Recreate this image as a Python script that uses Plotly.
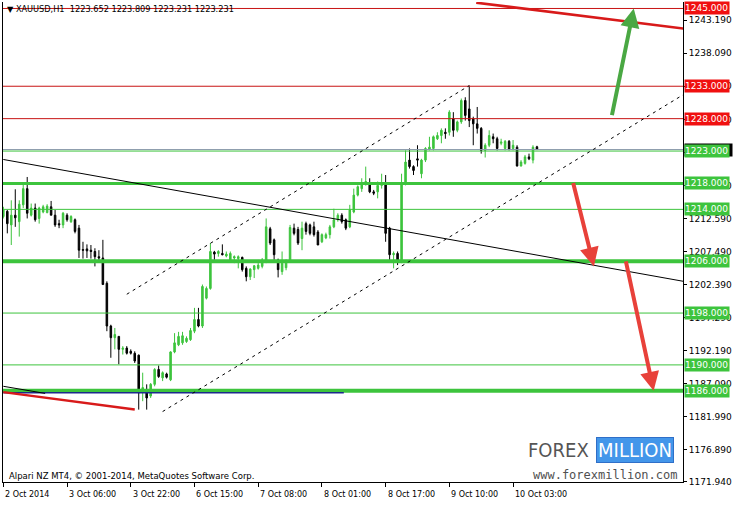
import plotly.graph_objects as go

# ---------------- data ----------------
time_labels = ["2 Oct 2014", "3 Oct 06:00", "3 Oct 22:00", "6 Oct 15:00", "7 Oct 08:00",
               "8 Oct 01:00", "8 Oct 17:00", "9 Oct 10:00", "10 Oct 03:00"]
label_bars = [0, 16, 32, 48, 64, 80, 96, 112, 128]

opens = [1212.9, 1213.7, 1211.6, 1213.1, 1212.1, 1214.7, 1217.2, 1213.1, 1214.2, 1212.6,
         1213.6, 1213.5, 1214.4, 1213.1, 1211.8, 1211.6, 1213.1, 1212.1, 1212.4, 1211.1,
         1207.8, 1207.9, 1207.7, 1207.5, 1206.7, 1206.5, 1202.6, 1196.0, 1194.2, 1194.4,
         1192.4, 1192.6, 1192.1, 1191.8, 1191.5, 1186.0, 1185.7, 1185.2, 1187.0, 1189.3,
         1188.0, 1188.6, 1187.7, 1192.0, 1193.1, 1193.4, 1193.6, 1193.9, 1195.2, 1197.0,
         1196.0, 1200.3, 1201.8, 1207.4, 1207.2, 1207.2, 1206.8, 1206.2, 1206.5, 1206.4,
         1206.6, 1204.9, 1203.6, 1204.7, 1204.9, 1205.2, 1206.0, 1211.0, 1209.3, 1206.2,
         1204.4, 1205.0, 1205.9, 1211.1, 1210.9, 1209.5, 1211.8, 1211.6, 1211.3, 1210.5,
         1209.0, 1209.6, 1210.1, 1211.3, 1212.4, 1213.1, 1212.4, 1211.3, 1213.6, 1216.2,
         1217.2, 1217.8, 1218.0, 1216.7, 1216.7, 1217.7, 1218.0, 1211.1, 1207.0, 1207.2,
         1205.9, 1218.0, 1221.6, 1220.6, 1221.8, 1219.5, 1221.6, 1223.3, 1223.4, 1224.9,
         1225.4, 1225.9, 1225.9, 1228.0, 1226.2, 1227.5, 1230.8, 1229.5, 1228.0, 1227.2,
         1226.5, 1223.1, 1223.9, 1225.2, 1224.9, 1224.2, 1223.4, 1224.5, 1223.4, 1223.6,
         1220.7, 1221.1, 1222.1, 1221.6, 1223.652]
highs = [1214.4, 1213.9, 1215.4, 1217.1, 1215.4, 1218.0, 1219.0, 1214.9, 1214.9, 1214.4,
         1214.7, 1214.8, 1215.3, 1213.9, 1212.4, 1213.6, 1213.4, 1213.1, 1212.6, 1211.6,
         1209.0, 1208.6, 1208.5, 1208.0, 1207.7, 1209.3, 1202.9, 1196.2, 1195.7, 1194.4,
         1192.9, 1192.9, 1192.4, 1192.1, 1191.6, 1188.8, 1187.0, 1187.2, 1189.5, 1189.9,
         1189.0, 1188.8, 1192.1, 1194.9, 1195.1, 1195.1, 1194.4, 1195.7, 1198.8, 1198.8,
         1202.4, 1202.1, 1208.8, 1207.6, 1207.7, 1208.6, 1207.5, 1207.5, 1206.9, 1206.9,
         1206.7, 1205.2, 1204.9, 1205.4, 1206.2, 1206.5, 1212.6, 1211.3, 1209.5, 1206.4,
         1207.5, 1206.3, 1211.6, 1211.8, 1211.3, 1212.1, 1212.1, 1211.8, 1212.1, 1210.8,
         1210.3, 1210.4, 1211.6, 1214.1, 1213.4, 1213.4, 1212.6, 1214.7, 1217.2, 1217.7,
         1218.8, 1220.6, 1218.8, 1217.0, 1218.3, 1219.5, 1219.3, 1211.3, 1207.5, 1207.5,
         1219.5, 1223.1, 1223.4, 1220.8, 1223.9, 1221.8, 1223.6, 1225.2, 1225.4, 1225.9,
         1226.5, 1226.5, 1229.3, 1229.0, 1227.7, 1231.1, 1231.3, 1233.1, 1228.3, 1229.8,
         1226.7, 1224.2, 1226.2, 1225.7, 1225.2, 1224.9, 1224.7, 1224.7, 1224.7, 1223.9,
         1221.6, 1222.4, 1222.6, 1223.9, 1223.809]
lows = [1212.6, 1210.3, 1208.5, 1211.3, 1209.8, 1214.2, 1212.6, 1212.9, 1212.1, 1211.8,
        1213.4, 1213.4, 1213.1, 1211.3, 1211.1, 1211.1, 1212.1, 1211.9, 1210.3, 1206.5,
        1206.4, 1206.5, 1206.4, 1205.2, 1206.2, 1202.4, 1195.2, 1191.1, 1192.4, 1190.1,
        1191.6, 1191.6, 1191.6, 1190.3, 1183.1, 1184.4, 1183.1, 1184.9, 1186.7, 1188.0,
        1187.5, 1187.9, 1187.5, 1191.8, 1192.9, 1193.1, 1193.4, 1193.7, 1194.9, 1195.8,
        1195.7, 1200.1, 1201.6, 1206.2, 1206.7, 1206.9, 1206.6, 1206.0, 1205.7, 1204.9,
        1204.4, 1202.9, 1203.1, 1203.4, 1204.7, 1204.9, 1205.7, 1208.5, 1206.2, 1203.5,
        1203.9, 1204.6, 1205.9, 1210.0, 1208.5, 1207.7, 1210.1, 1210.0, 1209.8, 1208.5,
        1208.8, 1209.4, 1209.5, 1211.1, 1212.1, 1211.8, 1210.8, 1211.1, 1213.4, 1216.0,
        1216.7, 1217.7, 1216.5, 1216.2, 1215.7, 1217.2, 1209.0, 1206.2, 1204.9, 1205.4,
        1205.7, 1217.7, 1220.3, 1219.3, 1220.6, 1218.8, 1221.3, 1223.1, 1223.1, 1224.7,
        1224.2, 1224.9, 1225.4, 1225.2, 1225.9, 1227.2, 1227.7, 1226.7, 1223.9, 1225.7,
        1222.6, 1222.0, 1223.6, 1224.2, 1223.1, 1223.9, 1223.1, 1223.1, 1223.1, 1220.6,
        1220.6, 1220.9, 1221.6, 1221.1, 1223.231]
closes = [1213.9, 1211.8, 1213.1, 1212.7, 1214.8, 1217.2, 1213.4, 1214.2, 1212.4, 1214.2,
          1214.4, 1214.5, 1213.1, 1211.6, 1211.6, 1213.4, 1212.4, 1212.9, 1210.6, 1207.7,
          1207.7, 1207.6, 1207.5, 1206.7, 1206.5, 1202.4, 1196.0, 1194.2, 1194.7, 1192.4,
          1192.6, 1191.8, 1191.8, 1190.6, 1185.7, 1186.5, 1184.9, 1187.0, 1189.3, 1188.2,
          1188.8, 1188.1, 1192.0, 1193.4, 1194.4, 1194.5, 1194.1, 1195.3, 1197.0, 1196.0,
          1202.1, 1201.8, 1207.5, 1207.1, 1207.5, 1207.0, 1207.1, 1207.2, 1206.7, 1206.7,
          1204.7, 1203.6, 1204.8, 1205.3, 1205.4, 1206.2, 1211.3, 1208.8, 1207.0, 1204.7,
          1205.7, 1206.0, 1211.2, 1210.3, 1208.8, 1211.1, 1210.6, 1210.3, 1210.1, 1208.5,
          1210.1, 1210.1, 1211.3, 1212.4, 1213.1, 1212.1, 1211.1, 1213.9, 1216.2, 1217.5,
          1218.0, 1218.3, 1216.7, 1216.5, 1217.7, 1218.0, 1210.3, 1207.0, 1207.2, 1206.1,
          1218.0, 1221.3, 1220.6, 1220.0, 1221.6, 1221.6, 1223.4, 1223.6, 1225.2, 1225.4,
          1226.2, 1225.7, 1229.0, 1226.2, 1227.5, 1230.8, 1228.5, 1227.7, 1227.2, 1226.5,
          1223.1, 1223.9, 1225.4, 1224.9, 1223.4, 1224.4, 1224.5, 1223.3, 1223.9, 1220.7,
          1221.3, 1222.1, 1221.8, 1223.6, 1223.231]

level_prices = [1245, 1233, 1228, 1223, 1218, 1214, 1206, 1198, 1190, 1186]
level_is_red = [True, True, True, False, False, False, False, False, False, False]
level_thick = [1, 1, 1, 1, 3, 1, 4, 1, 1, 4]
bid_price = 1223.231

axis_ticks = [1243.19, 1238.09, 1232.99, 1227.89, 1222.79, 1217.69, 1212.59, 1207.49,
              1202.39, 1197.29, 1192.19, 1187.09, 1181.99, 1176.89, 1171.94]

# trend objects: [bar0, price0, bar1, price1]
solid_trend = [0, 1221.7, 170.75, 1202.9]
channel_upper = [31, 1200.9, 117, 1233.1]
channel_lower = [40, 1182.8, 170.75, 1231.7]
red_top = [118.75, 1245.9, 170.75, 1241.9]
red_bottom = [0, 1185.8, 33, 1183.1]
black_short = [0, 1186.7, 10.5, 1185.6]
blue_line = [0, 1185.7, 85.5, 1185.7]

# arrows: [tail bar, tail price, head bar, head price]
green_arrow = [152.75, 1228.3, 158.3, 1245.0]
red_arrows = [[143.0, 1218.3, 148.3, 1205.2], [156.25, 1206.2, 163.3, 1186.0]]

title_text = "\u25bc XAUUSD,H1  1223.652 1223.809 1223.231 1223.231"
copyright_text = "Alpari NZ MT4, \u00a9 2001-2014, MetaQuotes Software Corp."

# ---------------- style ----------------
GREEN = "#3dc43d"
RED_LINE = "#c81414"
RED_BOX = "#f01010"
FONT = "DejaVu Sans"
W, H = 734, 505
ML, MR, MT, MB = 3, 48, 2, 23
PW, PH = W - ML - MR, H - MT - MB


def px(x):
    return (x - ML) / PW


def py(y):
    return (H - MB - y) / PH


fig = go.Figure()
fig.add_trace(go.Candlestick(
    x=list(range(len(opens))), open=opens, high=highs, low=lows, close=closes,
    increasing=dict(line=dict(color=GREEN, width=1), fillcolor=GREEN),
    decreasing=dict(line=dict(color="black", width=1), fillcolor="black"),
    whiskerwidth=0, showlegend=False, hoverinfo="skip"))

shapes = []
shapes.append(dict(type="line", xref="paper", x0=0, x1=1, yref="y", y0=bid_price, y1=bid_price,
                   line=dict(color="#8a9aaa", width=1), layer="above"))
for p, red, w in zip(level_prices, level_is_red, level_thick):
    shapes.append(dict(type="line", xref="paper", x0=0, x1=1, yref="y", y0=p, y1=p,
                       line=dict(color=RED_LINE if red else GREEN, width=w), layer="above"))


def seg(v, color, width, dash="solid"):
    return dict(type="line", xref="x", yref="y", x0=v[0], y0=v[1], x1=v[2], y1=v[3],
                line=dict(color=color, width=width, dash=dash), layer="above")


shapes.append(seg(blue_line, "#1c2a8c", 1.5))
shapes.append(seg(solid_trend, "black", 1))
shapes.append(seg(channel_upper, "black", 1, "3px,4px"))
shapes.append(seg(channel_lower, "black", 1, "3px,4px"))
shapes.append(seg(black_short, "black", 1))
shapes.append(seg(red_top, "#d81a1a", 2.5))
shapes.append(seg(red_bottom, "#d81a1a", 2.5))

ann = []
for v, col in [(green_arrow, "#4aa843")] + [(r, "#e8413a") for r in red_arrows]:
    ann.append(dict(x=v[2], y=v[3], ax=v[0], ay=v[1], xref="x", yref="y", axref="x", ayref="y",
                    text="", showarrow=True, arrowhead=2, arrowsize=0.95, arrowwidth=4,
                    arrowcolor=col, standoff=0, startstandoff=0))

ann.append(dict(xref="paper", x=1, xanchor="left", xshift=1, yref="y", y=bid_price,
                text="1223.231", font=dict(family=FONT, size=9, color="white"),
                bgcolor="black", width=47, height=12, borderpad=0, showarrow=False, align="left"))
for p, red in zip(level_prices, level_is_red):
    ann.append(dict(xref="paper", x=1, xanchor="left", xshift=1, yref="y", y=p,
                    text=f"{p:.3f}", font=dict(family=FONT, size=9, color="white"),
                    bgcolor=RED_BOX if red else GREEN, width=44, height=12, borderpad=0,
                    showarrow=False, align="left"))

for b, t in zip(label_bars, time_labels):
    ann.append(dict(xref="x", x=b, xanchor="left", xshift=0, yref="paper", y=0, yanchor="middle",
                    yshift=-12, text=t, showarrow=False, font=dict(family=FONT, size=8, color="black")))

ann.append(dict(xref="paper", x=0, xanchor="left", xshift=2, yref="paper", y=1, yanchor="middle",
                yshift=-7, text=title_text, showarrow=False, font=dict(family=FONT, size=8.2, color="black")))
ann.append(dict(xref="paper", x=0, xanchor="left", xshift=4, yref="paper", y=0, yanchor="middle",
                yshift=6, text=copyright_text, showarrow=False, font=dict(family=FONT, size=8.5, color="black")))

ann.append(dict(xref="paper", x=px(594), xanchor="right", yref="paper", y=py(450), yanchor="middle",
                text="FOREX", showarrow=False,
                font=dict(family="Liberation Sans Narrow, DejaVu Sans Condensed, Roboto", size=20, color="#555555")))
ann.append(dict(xref="paper", x=px(599), xanchor="left", yref="paper", y=py(450), yanchor="middle",
                text="MILLION", showarrow=False, bgcolor="#4396ea", bordercolor="#2f6fc8", borderwidth=1,
                width=76, height=24, borderpad=0,
                font=dict(family="Liberation Sans Narrow, DejaVu Sans Condensed, Roboto", size=20, color="white")))
ann.append(dict(xref="paper", x=px(533), xanchor="left", yref="paper", y=py(475), yanchor="middle",
                text="www.forexmillion.com", showarrow=False,
                font=dict(family="DejaVu Sans Mono", size=12, color="#505050")))

fig.update_layout(
    width=W, height=H, margin=dict(l=ML, r=MR, t=MT, b=MB),
    paper_bgcolor="white", plot_bgcolor="white", showlegend=False, boxgap=0.45,
    shapes=shapes, annotations=ann,
    xaxis=dict(range=[-0.08, -0.08 + PW / 4.0], showgrid=False, zeroline=False, showline=True,
               linecolor="black", linewidth=1, ticks="outside", ticklen=4, tickcolor="black",
               tickvals=label_bars, showticklabels=False, rangeslider=dict(visible=False), fixedrange=True),
    yaxis=dict(range=[1171.93, 1246.0], side="right", showgrid=False, zeroline=False, showline=True,
               mirror=True, linecolor="black", linewidth=1, ticks="outside", ticklen=3, tickcolor="black",
               tickvals=axis_ticks, ticktext=[f"{v:.3f}" for v in axis_ticks],
               tickfont=dict(family=FONT, size=9, color="black"), fixedrange=True),
)

fig.write_html("out.html", config={"displayModeBar": False},
               post_script="document.body.style.margin='0';document.body.style.padding='0';")
